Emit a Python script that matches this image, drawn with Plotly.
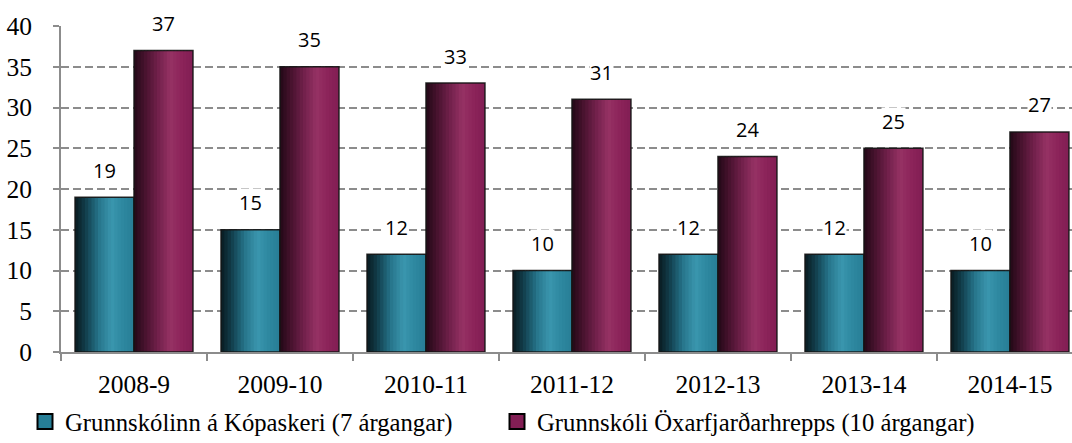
import plotly.graph_objects as go

categories = ["2008-9", "2009-10", "2010-11", "2011-12", "2012-13", "2013-14", "2014-15"]
kopasker = [19, 15, 12, 10, 12, 12, 10]
oxarfjordur = [37, 35, 33, 31, 24, 25, 27]
series_names = ["Grunnskólinn á Kópaskeri (7 árgangar)", "Grunnskóli Öxarfjarðarhrepps (10 árgangar)"]
y_ticks = [0, 5, 10, 15, 20, 25, 30, 35, 40]

W, H = 1072, 443
ML, MR, MT, MB = 61, 0, 26, 91
x_range = [-0.5, 6.425]
plot_w = W - ML - MR
plot_h = H - MT - MB
px_per_cat = plot_w / (x_range[1] - x_range[0])

bar_w = 0.404
n_strips = 18

teal_stops = [(0.0, (8, 26, 32)), (0.18, (18, 62, 76)), (0.4, (38, 116, 138)),
              (0.62, (58, 150, 174)), (0.8, (46, 136, 160)), (1.0, (40, 126, 150))]
purple_stops = [(0.0, (34, 8, 22)), (0.18, (70, 18, 45)), (0.4, (112, 32, 74)),
                (0.62, (150, 50, 100)), (0.8, (140, 36, 90)), (1.0, (130, 30, 84))]


def interp(stops, t):
    for (t0, c0), (t1, c1) in zip(stops, stops[1:]):
        if t0 <= t <= t1:
            f = (t - t0) / (t1 - t0) if t1 > t0 else 0
            return "rgb(%d,%d,%d)" % tuple(round(a + (b - a) * f) for a, b in zip(c0, c1))
    return "rgb(%d,%d,%d)" % stops[-1][1]


fig = go.Figure()

series = [(kopasker, teal_stops, -bar_w), (oxarfjordur, purple_stops, 0.0)]
step = bar_w / n_strips
for vals, stops, base_off in series:
    for i in range(n_strips):
        t = (i + 0.5) / n_strips
        w = step * 1.4 if i < n_strips - 1 else step
        fig.add_trace(go.Bar(x=categories, y=vals, offset=base_off + i * step, width=w,
                             marker=dict(color=interp(stops, t), line=dict(width=0)),
                             showlegend=False, hoverinfo="skip"))
    # outline
    fig.add_trace(go.Bar(x=categories, y=vals, offset=base_off, width=bar_w,
                         marker=dict(color="rgba(0,0,0,0)", line=dict(color="rgba(20,20,20,0.9)", width=1.5)),
                         showlegend=False, hoverinfo="skip"))

legend_colors = ["rgb(38,126,150)", "rgb(130,30,84)"]
legend_ids = ["legend", "legend2"]
for name, col, lid in zip(series_names, legend_colors, legend_ids):
    fig.add_trace(go.Scatter(x=[None], y=[None], mode="markers", name=name, legend=lid,
                             marker=dict(symbol="square", size=15, color=col,
                                         line=dict(color="black", width=2))))

annotations = []
for vals, sign in [(kopasker, -1), (oxarfjordur, 1)]:
    for c, v in zip(categories, vals):
        annotations.append(dict(x=c, y=v, text=str(v), showarrow=False,
                                xshift=sign * bar_w / 2 * px_per_cat, yshift=27,
                                yanchor="middle", bgcolor="white", borderpad=0,
                                font=dict(family="Open Sans", size=20, color="black")))

tick_font = dict(family="Liberation Serif", size=25.5, color="black")
legend_font = dict(family="Liberation Serif", size=24.7, color="black")

legend_y = -(399 - (MT + plot_h)) / plot_h


def legend_at(left_px):
    return dict(orientation="h", x=(left_px - ML) / plot_w, xanchor="left",
                y=legend_y, yanchor="top", font=legend_font, itemwidth=30,
                bgcolor="rgba(0,0,0,0)")


fig.update_layout(
    width=W, height=H,
    margin=dict(l=ML, r=MR, t=MT, b=MB, autoexpand=False),
    barmode="overlay",
    plot_bgcolor="white", paper_bgcolor="white",
    font=tick_font,
    annotations=annotations,
    legend=legend_at(25),
    legend2=legend_at(497),
    xaxis=dict(type="category", range=x_range, showline=True, linecolor="#8c8c8c", linewidth=2,
               ticks="outside", tickson="boundaries", ticklen=7, tickcolor="#8c8c8c", tickwidth=2,
               showgrid=False, fixedrange=True, automargin=False, tickfont=tick_font,
               ticklabelstandoff=8),
    yaxis=dict(range=[0, 40], tickvals=y_ticks, showline=True, linecolor="#8c8c8c", linewidth=2,
               ticks="outside", ticklen=6, tickcolor="#8c8c8c", tickwidth=2,
               showgrid=True, gridcolor="#8c8c8c", gridwidth=2, griddash="8px,4px",
               zeroline=False, ticklabelstandoff=16, fixedrange=True, automargin=False,
               tickfont=tick_font),
)

fig.write_html("out.html", config={"displayModeBar": False},
               post_script="document.body.style.margin='0';document.body.style.overflow='hidden';")
